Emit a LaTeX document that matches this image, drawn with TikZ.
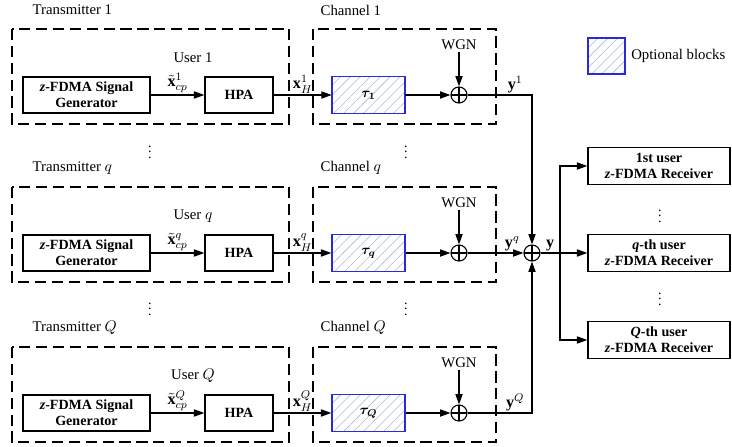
\documentclass[tikz,border=0pt]{standalone}
\usepackage{amsmath,amssymb}
\usepackage{fontspec}
\setmainfont{Liberation Serif}
\usepackage{tikz}
\usetikzlibrary{arrows.meta,positioning,calc,patterns.meta}
\definecolor{optblue}{HTML}{2a2ad8}
\definecolor{hatchc}{HTML}{a9b9d3}

\tikzset{
  blk/.style={draw, line width=0.9pt, minimum height=0.9cm, align=center, inner sep=1pt,
    font=\fontsize{10}{11.5}\selectfont\bfseries},
  optblk/.style={draw=optblue, line width=0.9pt, minimum width=1.825cm, minimum height=0.925cm,
    pattern={Lines[angle=45,distance=5pt,line width=0.4pt]}, pattern color=hatchc},
  frame/.style={draw, line width=0.9pt, dash pattern=on 8pt off 4pt},
  summ/.style={circle, draw, line width=0.8pt, minimum size=0.4cm, inner sep=0pt,
    path picture={\draw[line width=0.8pt] (path picture bounding box.north) -- (path picture bounding box.south)
      (path picture bounding box.west) -- (path picture bounding box.east);}},
  sig/.style={line width=0.8pt, -{Triangle[length=2.6mm,width=1.8mm]}},
  wire/.style={line width=0.8pt},
  lbl/.style={font=\fontsize{10.5}{12}\selectfont, inner sep=1pt},
  mlbl/.style={font=\fontsize{11.5}{12}\selectfont, inner sep=1pt},
  dots/.style={inner sep=0pt, font=\fontsize{10}{10}\selectfont},
}

\begin{document}
\begin{tikzpicture}[x=0.025cm, y=-0.025cm]
\useasboundingbox (0,0) rectangle (732,447);
% one transmitter + channel per row
\foreach \r/\y/\m/\t in {1/95/1/1, q/253/q/$q$, Q/413/Q/$Q$} {
  \draw[frame] (12,{\y-66}) rectangle (289,{\y+29});
  \draw[frame] (313,{\y-66}) rectangle (496,{\y+29});
  \node[lbl, anchor=west] (tx\r) at (31,{\y-85}) {Transmitter \t};
  \node[lbl, anchor=west] (ch\r) at (319,{\y-85}) {Channel \t};
  \node[lbl] (usr\r) at (193,{\y-37}) {User \t};
  \node[blk, minimum width=3.175cm] (gen\r) at (86.5,\y) {\textit{z}-FDMA Signal\\Generator};
  \node[blk, minimum width=1.7cm] (hpa\r) at (239,\y) {HPA};
  \node[optblk] (tau\r) at (368.5,\y) {$\boldsymbol{\tau_{\m}}$};
  \node[summ] (sum\r) at (459,\y) {};
  \node[lbl] (wgn\r) at (459,{\y-50}) {WGN};
  \draw[sig] (gen\r) -- node[mlbl, above] {$\tilde{\mathbf{x}}^{\m}_{cp}$} (hpa\r);
  \draw[sig] (hpa\r) -- node[mlbl, above] {$\mathbf{x}^{\m}_{H}$} (tau\r);
  \draw[sig] (tau\r) -- (sum\r);
  \draw[sig] (wgn\r) -- (sum\r);
}
% dots between rows
\foreach \yy in {148,305} {
  \node[dots] (dl\yy) at (150,\yy) {$\vdots$};
  \node[dots] (dr\yy) at (406,\yy) {$\vdots$};
}
% combining
\node[summ] (msum) at (532,253) {};
\coordinate (br) at (560,253);
\draw[sig] (sum1) -| node[mlbl, pos=0.37, above] {$\mathbf{y}^{1}$} (msum);
\draw[sig] (sumq) -- node[mlbl, pos=0.8, above] {$\mathbf{y}^{q}$} (msum);
\draw[sig] (sumQ) -| node[mlbl, pos=0.37, above] {$\mathbf{y}^{Q}$} (msum);
\draw[wire] (msum) -- node[mlbl, above] {$\mathbf{y}$} (br);
% receivers
\node[blk, minimum width=3.55cm, minimum height=0.925cm] (rx1) at (659,166) {1st user\\\textit{z}-FDMA Receiver};
\node[blk, minimum width=3.55cm, minimum height=0.925cm] (rxq) at (659,253) {\textit{q}-th user\\\textit{z}-FDMA Receiver};
\node[blk, minimum width=3.55cm, minimum height=0.925cm] (rxQ) at (659,340) {\textit{Q}-th user\\\textit{z}-FDMA Receiver};
\draw[sig] (br) -- (rxq);
\draw[sig] (br) |- (rx1);
\draw[sig] (br) |- (rxQ);
\node[dots] (dx1) at (660,212) {$\vdots$};
\node[dots] (dx2) at (660,295) {$\vdots$};
% legend
\node[optblk, minimum width=0.925cm, minimum height=0.9cm] (leg) at (606.5,56) {};
\node[lbl, right=0.1cm of leg] (legt) {Optional blocks};
\end{tikzpicture}
\end{document}
